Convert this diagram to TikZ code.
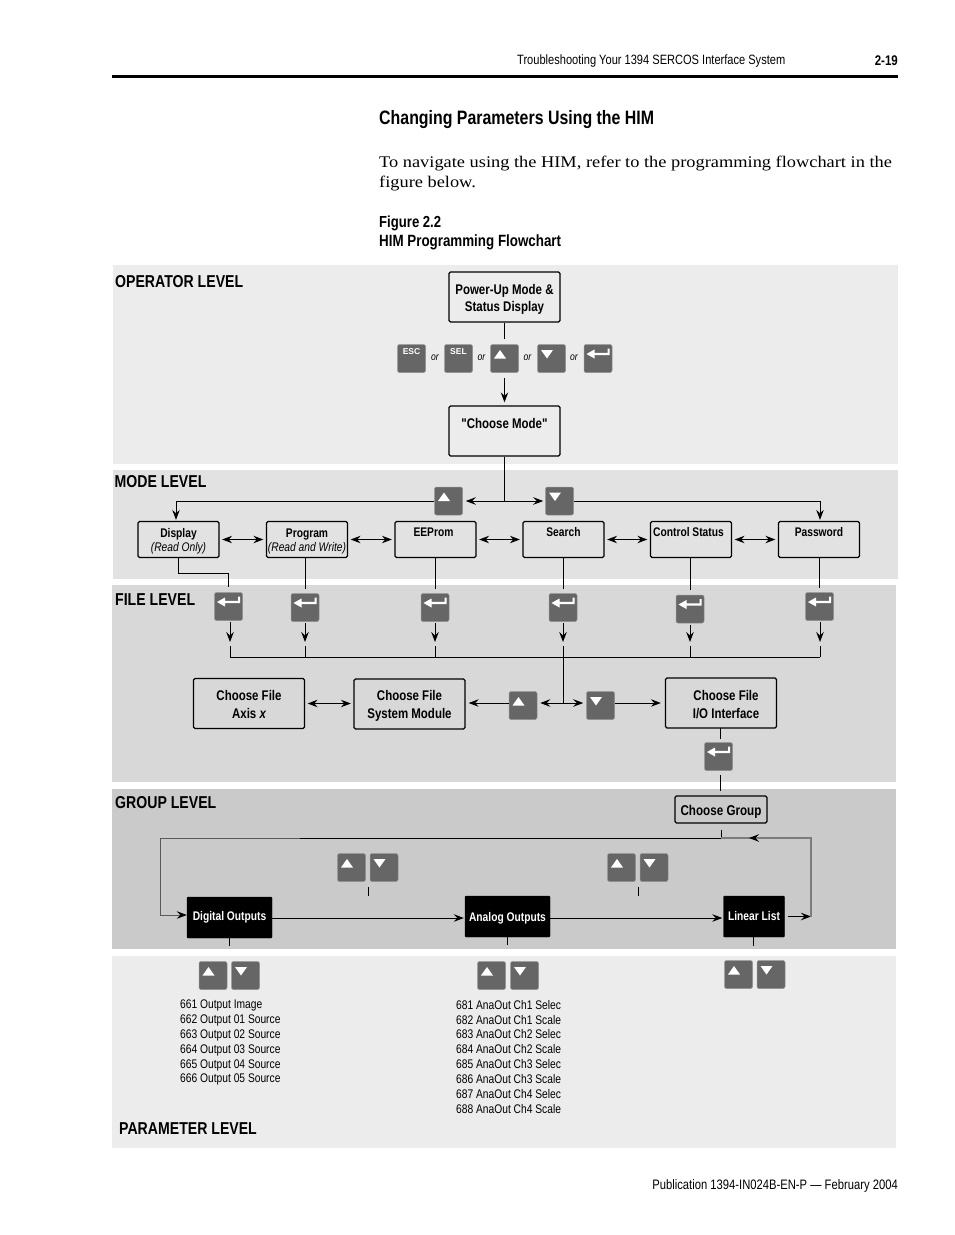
\documentclass[tikz,border=0pt]{standalone}
\usepackage{fontspec}
\usetikzlibrary{arrows.meta,calc}
\setmainfont{Liberation Sans}
\newfontfamily\condfont{Liberation Sans}[FakeStretch=0.82]
\newfontfamily\bodyfont{Liberation Serif}[FakeStretch=1.13]
\definecolor{operatorbg}{HTML}{ECECEC}
\definecolor{modebg}{HTML}{E2E2E2}
\definecolor{filebg}{HTML}{D8D8D8}
\definecolor{groupbg}{HTML}{CACACA}
\definecolor{keygray}{HTML}{666666}
\definecolor{loopgray}{HTML}{7C7C7C}
\newcommand{\fs}[1]{\fontsize{#1}{#1}\selectfont}
\newcommand{\liftbig}{\rule{0pt}{14pt}}
\newcommand{\liftmode}{\rule{0pt}{12.5pt}}

\tikzset{
  tip/.tip={Stealth[length=10pt,width=7.5pt,inset=3.5pt]},
  flowbox/.style={draw=black, line width=1.3pt, rounded corners=1.5pt, align=center, inner sep=0pt,
    font=\condfont\bfseries\fs{14}},
  modebox/.style={flowbox, minimum width=81pt, minimum height=36pt, font=\condfont\bfseries\fs{12.5}},
  bigbox/.style={flowbox, minimum width=111pt, minimum height=50pt},
  blackbox/.style={draw=black, fill=black, text=white, rounded corners=1pt, inner sep=0pt, minimum height=41pt,
    font=\condfont\bfseries\fs{12.5}},
  level/.style={anchor=west, inner sep=0pt, font=\condfont\bfseries\fs{17.2}},
  listtext/.style={anchor=west, inner sep=0pt, font=\condfont\fs{12.5}},
  ortext/.style={inner sep=0pt, font=\condfont\itshape\fs{10.5}},
  keytext/.style={inner sep=0pt, text=white, font=\bfseries\fs{8.5}},
  keybox/.style={draw=gray!85, line width=.5pt, fill=keygray, rounded corners=2pt, minimum size=28pt, inner sep=0pt},
  upkey/.style={keybox, path picture={\fill[white, sharp corners, shift={(path picture bounding box.center)}]
    (-10.5,0) -- (1.5,0) -- (-4.5,-8.5) -- cycle;}},
  downkey/.style={keybox, path picture={\fill[white, sharp corners, shift={(path picture bounding box.center)}]
    (-10.5,-8.5) -- (1.5,-8.5) -- (-4.5,0) -- cycle;}},
  enterkey/.style={keybox, path picture={\fill[white, sharp corners, shift={(path picture bounding box.center)}]
    (-11.5,-4.5) -- (-3.5,-9) -- (-3.5,-5.7) -- (9.5,-5.7) -- (9.5,-10) -- (11.7,-10) -- (11.7,-3.3)
    -- (-3.5,-3.3) -- (-3.5,0) -- cycle;}},
  flowline/.style={line width=1pt, draw=black},
  flowarrow/.style={flowline, -tip},
  dblarrow/.style={flowline, tip-tip, shorten <=2.5pt, shorten >=2.5pt},
}

\begin{document}
\begin{tikzpicture}[x=1pt, y=-1pt]
\useasboundingbox (0,0) rectangle (954,1235);
\fill[white] (0,0) rectangle (954,1235);

\node[anchor=west, inner sep=0pt, font=\condfont\fs{13.5}] (runninghead) at (517,61) {Troubleshooting Your 1394 SERCOS Interface System};
\node[anchor=east, inner sep=0pt, font=\condfont\bfseries\fs{14}] (pagenum) at (898,60.5) {2-19};
\fill[black] (112,75) rectangle (898,78);
\node[anchor=west, inner sep=0pt, font=\condfont\bfseries\fs{19.4}] (heading) at (379,120) {Changing Parameters Using the HIM};
\node[anchor=west, inner sep=0pt, font=\bodyfont\fs{16.25}] (bodyone) at (379,164) {To navigate using the HIM, refer to the programming flowchart in the};
\node[anchor=west, inner sep=0pt, font=\bodyfont\fs{16.25}] (bodytwo) at (379,184) {figure below.};
\node[anchor=west, inner sep=0pt, font=\condfont\bfseries\fs{16}] (figlabel) at (379,223.5) {Figure 2.2};
\node[anchor=west, inner sep=0pt, font=\condfont\bfseries\fs{16.3}] (figtitle) at (379,242) {HIM Programming Flowchart};
\node[anchor=east, inner sep=0pt, font=\condfont\fs{13.7}] (footer) at (898,1186) {Publication 1394-IN024B-EN-P — February 2004};

\fill[operatorbg] (113,265) rectangle (898,464);
\fill[modebg] (113,470) rectangle (898,579);
\fill[filebg] (112,585) rectangle (896,782);
\fill[groupbg] (112,789) rectangle (896,949);
\fill[operatorbg] (112,956) rectangle (896,1148);

\node[level] (operatorlevel) at (115,281.5) {OPERATOR LEVEL};
\node[level] (modelevel) at (114.5,481.5) {MODE LEVEL};
\node[level] (filelevel) at (115,599.5) {FILE LEVEL};
\node[level] (grouplevel) at (115,802.5) {GROUP LEVEL};
\node[level] (paramlevel) at (119,1128.5) {PARAMETER LEVEL};

\node[bigbox] (powerup) at (504.5,297) {\liftbig Power-Up Mode \&\\[3pt]Status Display};
\node[bigbox] (choosemode) at (504.5,431) {\rule{0pt}{16pt}"Choose Mode"\\[3pt]\strut};

\node[keybox] (esckey) at (411.5,358.5) {};
\node[keybox] (selkey) at (458.5,358.5) {};
\node[upkey] (uppower) at (504.5,358.5) {};
\node[downkey] (downpower) at (551.5,358.5) {};
\node[enterkey] (enterpower) at (598,358.5) {};
\node[keytext] (esctext) at (411.5,352) {ESC};
\node[keytext] (seltext) at (458.5,352) {SEL};
\node[ortext] (orone) at (435,357.5) {or};
\node[ortext] (ortwo) at (481.5,357.5) {or};
\node[ortext] (orthree) at (527.5,357.5) {or};
\node[ortext] (orfour) at (574,357.5) {or};

\draw[flowline, shorten >=5pt] (powerup.south) -- (uppower.north);
\draw[flowarrow, shorten <=5pt, shorten >=3pt] (uppower.south) -- (choosemode.north);

\node[upkey] (upmode) at (448.5,501) {};
\node[downkey] (downmode) at (559.5,501) {};
\node[modebox] (display) at (178.5,539.5) {\liftmode Display\\[2pt]{\mdseries\itshape (Read Only)}};
\node[modebox] (program) at (307,539.5) {\liftmode Program\\[2pt]{\mdseries\itshape (Read and Write)}};
\node[modebox] (eeprom) at (435.5,539.5) {\liftmode\hspace*{-4pt}EEProm\\[2pt]\strut};
\node[modebox] (search) at (563.5,539.5) {\liftmode Search\\[2pt]\strut};
\node[modebox] (control) at (691,539.5) {\liftmode\hspace*{-5pt}Control Status\\[2pt]\strut};
\node[modebox] (password) at (819,539.5) {\liftmode Password\\[2pt]\strut};

\coordinate (modejoin) at (504.5,501);
\draw[flowline] (choosemode.south) -- (modejoin);
\draw[flowarrow, shorten >=3pt] (modejoin) -- (upmode.east);
\draw[flowarrow, shorten >=2pt] (modejoin) -- (downmode.west);
\draw[flowarrow, shorten >=1pt] (upmode.west) -| ([xshift=-2.5pt]display.north);
\draw[flowarrow, shorten >=1pt] (downmode.east) -| ([xshift=1pt]password.north);
\foreach \a/\b in {display/program,program/eeprom,eeprom/search,search/control,control/password}
  \draw[dblarrow] (\a.east) -- (\b.west);

\node[enterkey] (enterdisplay) at (228.5,606.5) {};
\node[enterkey] (enterprogram) at (305,607.5) {};
\node[enterkey] (entereeprom) at (435,607.5) {};
\node[enterkey] (entersearch) at (563,607.5) {};
\node[enterkey] (entercontrol) at (690,609) {};
\node[enterkey] (enterpassword) at (819.5,606.5) {};

\coordinate (displayjog) at (228.5,573);
\draw[flowline] (display.south) |- (displayjog);
\draw[flowline, shorten >=5pt] (displayjog) -- (enterdisplay.north);
\foreach \a in {program,eeprom,search,control,password}
  \draw[flowline, shorten >=4.5pt] (enter\a.north |- \a.south) -- (enter\a.north);

\foreach \a/\x in {display/230,program/305,eeprom/435,search/563,control/690,password/820} {
  \coordinate (bus\a) at (\x,657);
  \draw[flowarrow, shorten <=1.5pt, shorten >=15pt] (bus\a |- enter\a.south) -- (bus\a);
  \draw[flowline] (bus\a) -- ++(0,-11);
}
\draw[flowline] (busdisplay) -- (buspassword);

\node[bigbox] (axis) at (249,703.5) {\rule{0pt}{12pt}Choose File\\[4pt]Axis {\itshape x}};
\node[bigbox] (sysmodule) at (409.5,704) {\liftbig Choose File\\[4pt]System Module};
\node[bigbox] (interface) at (721,703) {\liftbig\hspace*{10pt}Choose File\\[4pt]\hspace*{10pt}I/O Interface};
\node[upkey] (upfile) at (523,705.5) {};
\node[downkey] (downfile) at (600.5,705.5) {};
\node[enterkey] (enterfile) at (718.5,756.5) {};

\coordinate (filejoin) at (563,703);
\draw[flowline] (bussearch) -- (filejoin);
\draw[dblarrow] (axis.east) -- (sysmodule.west |- axis.east);
\draw[flowarrow, shorten >=3pt] (upfile.west |- filejoin) -- (sysmodule.east |- filejoin);
\draw[dblarrow, shorten <=3pt, shorten >=3pt] (upfile.east |- filejoin) -- (downfile.west |- filejoin);
\draw[flowarrow, shorten >=4pt] (downfile.east |- filejoin) -- (interface.west |- filejoin);

\node[flowbox, minimum width=92pt, minimum height=27pt, font=\condfont\bfseries\fs{14.2}] (choosegroup) at (721,809.5) {\liftbig Choose Group};
\coordinate (filedrop) at (720,728);
\draw[flowline, shorten >=3pt] (filedrop) -- (filedrop |- enterfile.north);
\draw[flowline, shorten <=4pt, shorten >=4pt] (filedrop |- enterfile.south) -- (filedrop |- choosegroup.north);

\node[blackbox, minimum width=85pt] (digital) at (229.5,917.5) {Digital Outputs};
\node[blackbox, minimum width=85pt] (analog) at (507.5,916.5) {\rule{0pt}{13pt}Analog Outputs};
\node[blackbox, minimum width=61pt] (linear) at (754,916.5) {Linear List};

\coordinate (looptop) at (721,838);
\coordinate (loopleft) at (160,838);
\coordinate (loopright) at (811,838);
\coordinate (looptip) at (749,838);
\coordinate (loopfade) at (300,838);
\draw[flowline, shorten <=6pt] (choosegroup.south) -- (looptop);
\draw[flowline] (looptop) -- (loopfade);
\draw[flowarrow, draw=black!65, -{Stealth[length=10pt,width=7.5pt,inset=3.5pt,black]}] (loopfade) -- (loopleft) |- ([yshift=2.5pt]digital.west);
\draw[flowarrow, shorten >=1pt] ([yshift=-.5pt]digital.east) -- (analog.west |- 0,918);
\draw[flowarrow, shorten >=1pt] ([yshift=-1.5pt]analog.east) -- (linear.west |- 0,918);
\draw[flowarrow, shorten <=3pt] (linear.east) -- (loopright |- linear.east);
\draw[flowline, draw=loopgray, line width=1.3pt] (loopright |- linear.east) -- (loopright) -- (looptop);
\draw[flowline, draw=loopgray, line width=1.3pt, -{Stealth[length=10pt,width=7.5pt,inset=3.5pt,black]}] (looptop -| loopright) -- (looptip);

\node[upkey] (upgroupa) at (351.5,867.5) {};
\node[downkey] (downgroupa) at (384,867.5) {};
\node[upkey] (upgroupb) at (621.5,867.5) {};
\node[downkey] (downgroupb) at (654,867.5) {};
\coordinate (ticka) at (368.5,887);
\coordinate (tickb) at (638.5,887);
\draw[flowline] (ticka) -- ++(0,9);
\draw[flowline] (tickb) -- ++(0,9);

\node[upkey] (upparama) at (213,975.5) {};
\node[downkey] (downparama) at (245.5,975.5) {};
\node[upkey] (upparamb) at (491.5,975.5) {};
\node[downkey] (downparamb) at (524.5,975.5) {};
\node[upkey] (upparamc) at (738.5,974.5) {};
\node[downkey] (downparamc) at (771,974.5) {};
\coordinate (keysa) at (229,961);
\coordinate (keysb) at (507,961);
\coordinate (keysc) at (753,960);
\draw[flowline, shorten >=15pt] (keysa |- digital.south) -- (keysa);
\draw[flowline, shorten >=16pt] (keysb |- analog.south) -- (keysb);
\draw[flowline, shorten >=14pt] (keysc |- linear.south) -- (keysc);

\node[listtext] (digitala) at (180,1005) {661 Output Image};
\node[listtext] (digitalb) at (180,1020) {662 Output 01 Source};
\node[listtext] (digitalc) at (180,1035) {663 Output 02 Source};
\node[listtext] (digitald) at (180,1050) {664 Output 03 Source};
\node[listtext] (digitale) at (180,1065) {665 Output 04 Source};
\node[listtext] (digitalf) at (180,1079.5) {666 Output 05 Source};

\node[listtext] (analoga) at (456,1005) {681 AnaOut Ch1 Selec};
\node[listtext] (analogb) at (456,1020) {682 AnaOut Ch1 Scale};
\node[listtext] (analogc) at (456,1034.5) {683 AnaOut Ch2 Selec};
\node[listtext] (analogd) at (456,1049.5) {684 AnaOut Ch2 Scale};
\node[listtext] (analoge) at (456,1064.5) {685 AnaOut Ch3 Selec};
\node[listtext] (analogf) at (456,1079.5) {686 AnaOut Ch3 Scale};
\node[listtext] (analogg) at (456,1094.5) {687 AnaOut Ch4 Selec};
\node[listtext] (analogh) at (456,1109.5) {688 AnaOut Ch4 Scale};
\end{tikzpicture}
\end{document}
